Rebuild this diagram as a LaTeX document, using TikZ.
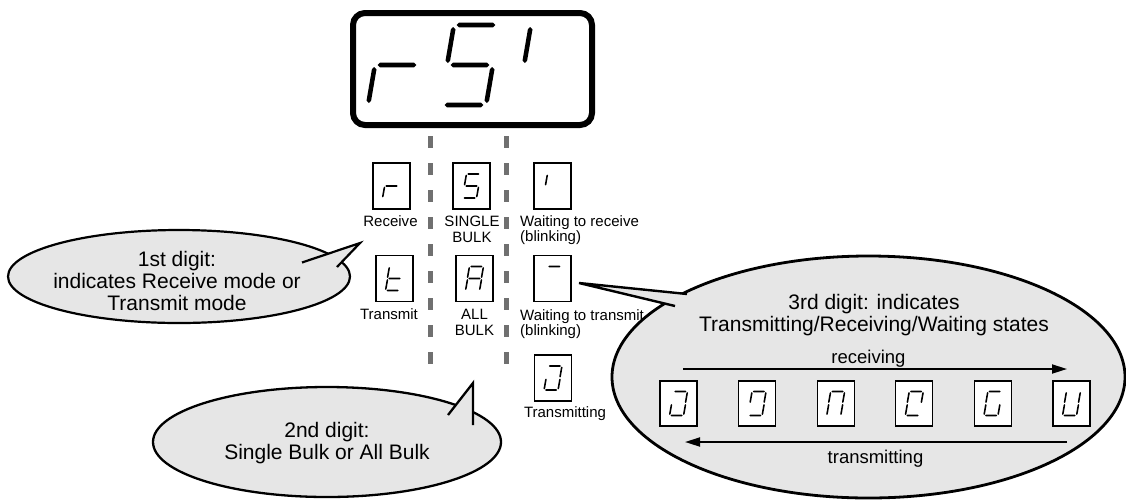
\documentclass[tikz,border=0pt]{standalone}
\usepackage{fontspec}
\setmainfont{Liberation Sans}
\usetikzlibrary{arrows.meta,calc,shapes.geometric}
\definecolor{bubblefill}{RGB}{230,230,230}
\definecolor{dashgray}{RGB}{112,112,112}

% tapered segments: horizontal from #1 to #2, vertical from top #1 to bottom #2
\newcommand{\hs}[2]{\fill (#1) -- ($(#1)+(\segw,\segw)$) -- ($(#2)+(-\segw,\segw)$) -- (#2) -- ($(#2)+(-\segw,-\segw)$) -- ($(#1)+(\segw,-\segw)$) -- cycle;}
\newcommand{\vs}[2]{\fill (#1) -- ($(#1)+(\segw,-\segw)$) -- ($(#2)+(\segw,\segw)$) -- (#2) -- ($(#2)+(-\segw,\segw)$) -- ($(#1)+(-\segw,-\segw)$) -- cycle;}
\newcommand{\segA}{\hs{0.07,2}{0.93,2}}
\newcommand{\segB}{\vs{1,1.95}{1,1.05}}
\newcommand{\segC}{\vs{1,0.95}{1,0.05}}
\newcommand{\segD}{\hs{0.07,0}{0.93,0}}
\newcommand{\segE}{\vs{0,0.95}{0,0.05}}
\newcommand{\segF}{\vs{0,1.95}{0,1.05}}
\newcommand{\segG}{\hs{0.07,1}{0.93,1}}

\newcommand{\bigdigit}[2]{\begin{scope}[shift={(#1,105)},x={(45pt,0pt)},y={(6pt,40pt)}]\def\segw{2.3pt}#2\end{scope}}
\newcommand{\smalldigit}[2]{\begin{scope}[shift={($(#1.center)+(-8.8,12)$)},x={(14pt,0pt)},y={(1.8pt,12pt)}]\def\segw{0.8pt}#2\end{scope}}

\tikzset{
  display/.style={draw, line width=6pt, rounded corners=12pt, minimum width=239pt, minimum height=112pt, inner sep=0pt},
  dbox/.style={draw, fill=white, line width=1.2pt, minimum width=37pt, minimum height=46pt, inner sep=0pt},
  ebox/.style={dbox, minimum height=45pt},
  dashline/.style={dashgray, line width=5pt, dash pattern=on 12pt off 15pt},
  callout/.style={ellipse, draw, fill=bubblefill, inner sep=0pt, outer sep=0pt},
  tailline/.style={line width=#1, line join=miter},
  bigtext/.style={font=\fontsize{21}{22}\selectfont, align=center, inner sep=0pt},
  midtext/.style={font=\fontsize{18.5}{20}\selectfont, inner sep=0pt},
  lbl/.style={font=\fontsize{15}{15.5}\selectfont, align=center, inner sep=0pt},
  lbll/.style={font=\fontsize{15}{15.5}\selectfont, align=left, inner sep=0pt},
  flow/.style={line width=1.8pt, -{Triangle[length=15pt,width=9pt]}},
}

\begin{document}
\begin{tikzpicture}[x=1pt, y=-1pt]
\useasboundingbox (0,0) rectangle (1126,499);

% main display
\node[display] (disp) at (472.5,69) {};
\bigdigit{368.5}{\segE\segG}
\bigdigit{441.5}{\segA\segF\segG\segC\segD}
\bigdigit{518.5}{\segF}

% dashed separators
\coordinate (d1top) at (430.5,136);
\coordinate (d1bot) at (430.5,364);
\coordinate (d2top) at (506.5,136);
\coordinate (d2bot) at (506.5,364);
\draw[dashline] (d1top) -- (d1bot);
\draw[dashline] (d2top) -- (d2bot);

% row 1
\node[dbox] (br) at (391.5,186) {};
\smalldigit{br}{\segE\segG}
\node[dbox] (bs) at (471.5,186) {};
\smalldigit{bs}{\segA\segF\segG\segC\segD}
\node[dbox] (bq) at (552.5,186) {};
\smalldigit{bq}{\segF}
\node[lbl, anchor=base] (lrec) at (390.5,226) {Receive};
\node[lbl] (lsingle) at (472,229.4) {SINGLE\\BULK};
\node[lbll, anchor=west] (lwr) at (520,229.9) {Waiting to receive\\(blinking)};

% row 2
\node[dbox] (bt) at (394.5,278.5) {};
\smalldigit{bt}{\segF\segE\segG\segD}
\node[dbox] (ba) at (474.5,278.5) {};
\smalldigit{ba}{\segA\segB\segC\segE\segF\segG}
\node[dbox] (bm) at (552.5,278.5) {};
\smalldigit{bm}{\segA}
\node[lbl, anchor=base] (ltr) at (389,319) {Transmit};
\node[lbl] (lall) at (474.5,322.4) {ALL\\BULK};
\node[lbll, anchor=west] (lwt) at (520,323.9) {Waiting to transmit\\(blinking)};

% row 3
\node[dbox] (bj) at (553,378) {};
\smalldigit{bj}{\segA\segB\segC\segD\segE}
\node[lbl, anchor=base] (ltx) at (565,417) {Transmitting};

% callout 1
\node[callout, line width=2.2pt, minimum width=342pt, minimum height=93pt] (c1) at (179,276.5) {};
\coordinate (c1a) at (302,262.5);
\coordinate (c1tip) at (360,243);
\coordinate (c1b) at (337,267);
\fill[bubblefill] (c1a) -- (c1tip) -- (c1b) -- cycle;
\draw[tailline=2.2pt] (c1a) -- (c1tip) -- (c1b);
\node[bigtext] (t1) at (177,281) {1st digit:\\indicates Receive mode or\\Transmit mode};

% callout 2
\node[callout, line width=2.3pt, minimum width=348pt, minimum height=110pt] (c2) at (327,442) {};
\coordinate (c2a) at (448,415);
\coordinate (c2tip) at (473,383);
\coordinate (c2b) at (473,425);
\fill[bubblefill] (c2a) -- (c2tip) -- (c2b) -- cycle;
\draw[tailline=2.3pt] (c2a) -- (c2tip) -- (c2b);
\node[bigtext] (t2) at (327,443.5) {2nd digit:\\Single Bulk or All Bulk};

% callout 3
\node[callout, line width=2.8pt, minimum width=513pt, minimum height=242pt] (c3) at (868.5,377) {};
\coordinate (c3a) at (687,294);
\coordinate (c3tip) at (579,283);
\coordinate (c3b) at (675,306);
\fill[bubblefill] (c3a) -- (c3tip) -- (c3b) -- cycle;
\draw[tailline=2.4pt] (c3a) -- (c3tip) -- (c3b);
\node[bigtext] (t3) at (874,315) {3rd digit: indicates\\Transmitting/Receiving/Waiting states};

\node[midtext, anchor=base] (lreceiving) at (868.5,363) {receiving};
\coordinate (ar1s) at (683,369);
\coordinate (ar1e) at (1067,369);
\draw[flow] (ar1s) -- (ar1e);

\node[ebox] (e1) at (678.5,403.5) {};
\smalldigit{e1}{\segA\segB\segC\segD\segE}
\node[ebox] (e2) at (757.1,403.5) {};
\smalldigit{e2}{\segA\segB\segC\segD\segF}
\node[ebox] (e3) at (835.7,403.5) {};
\smalldigit{e3}{\segA\segB\segC\segE\segF}
\node[ebox] (e4) at (914.3,403.5) {};
\smalldigit{e4}{\segA\segB\segD\segE\segF}
\node[ebox] (e5) at (992.9,403.5) {};
\smalldigit{e5}{\segA\segC\segD\segE\segF}
\node[ebox] (e6) at (1071.5,403.5) {};
\smalldigit{e6}{\segB\segC\segD\segE\segF}

\coordinate (ar2s) at (1067,442);
\coordinate (ar2e) at (685,442);
\draw[flow] (ar2s) -- (ar2e);
\node[midtext, anchor=base] (ltransmitting) at (875.5,463) {transmitting};
\end{tikzpicture}
\end{document}
